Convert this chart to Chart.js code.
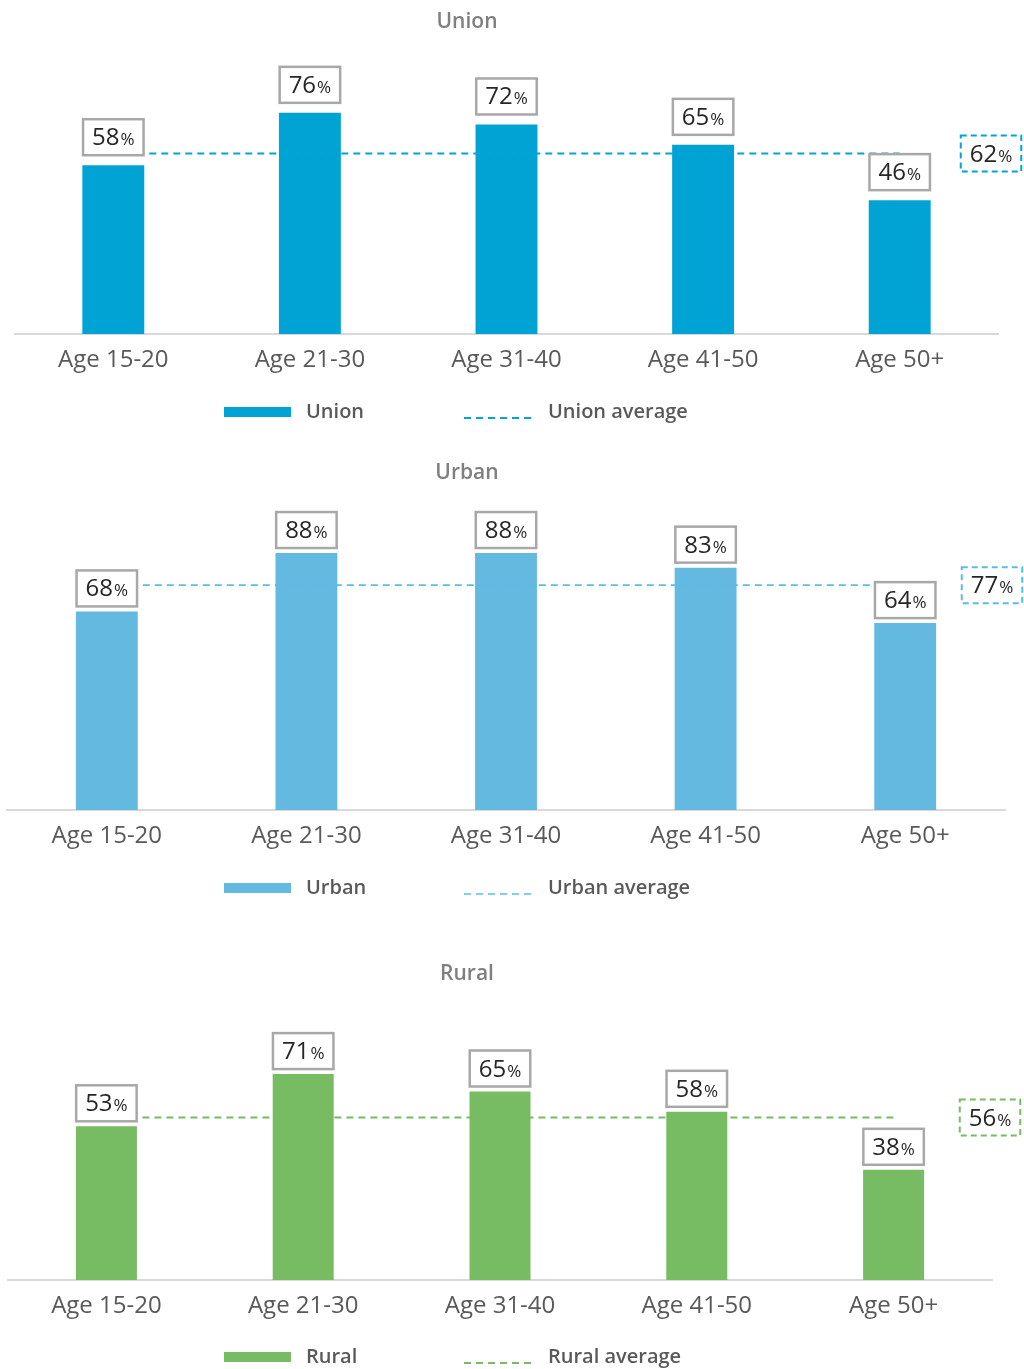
<!DOCTYPE html>
<html><head><meta charset="utf-8">
<script src="https://cdn.jsdelivr.net/npm/chart.js@4"></script>
<style>
body{margin:0;background:#fff;width:1024px;height:1369px;overflow:hidden;position:relative}
canvas{position:absolute;left:0}
</style></head><body>
<canvas id="c1" width="1024" height="450" style="top:0"></canvas>
<canvas id="c2" width="1024" height="480" style="top:450px"></canvas>
<canvas id="c3" width="1024" height="439" style="top:930px"></canvas>
<script>
const categories = ['Age 15-20','Age 21-30','Age 31-40','Age 41-50','Age 50+'];
const unionValues = [58,76,72,65,46];
const unionAverage = [62,62,62,62,62];
const urbanValues = [68,88,88,83,64];
const urbanAverage = [77,77,77,77,77];
const ruralValues = [53,71,65,58,38];
const ruralAverage = [56,56,56,56,56];

const FONT = '"Open Sans", "Noto Sans", sans-serif';

function drawLabel(ctx, cx, cy, value, stroke, dashed){
  ctx.save();
  const numFont = '400 24px ' + FONT, pctFont = '400 17px ' + FONT;
  ctx.font = numFont; const wn = ctx.measureText(String(value)).width;
  ctx.font = pctFont; const wp = ctx.measureText('%').width;
  const tw = wn + wp + 1, w = tw + 18, h = 36;
  ctx.fillStyle = '#fff';
  ctx.fillRect(cx - w/2, cy - h/2, w, h);
  ctx.lineWidth = dashed ? 2 : 2.5;
  ctx.strokeStyle = stroke;
  ctx.setLineDash(dashed ? [6,4] : []);
  ctx.strokeRect(cx - w/2, cy - h/2, w, h);
  ctx.setLineDash([]);
  ctx.fillStyle = '#262626';
  ctx.textBaseline = 'alphabetic';
  ctx.textAlign = 'left';
  ctx.font = numFont;
  ctx.fillText(String(value), cx - tw/2, cy + 8);
  ctx.font = pctFont;
  ctx.fillText('%', cx - tw/2 + wn + 1, cy + 8);
  ctx.restore();
}

const panelPlugin = {
  id: 'panel',
  afterDatasetsDraw(chart, args, o){
    const ctx = chart.ctx;
    ctx.save();
    ctx.font = '600 21px ' + FONT;
    ctx.fillStyle = '#7f7f7f';
    ctx.textAlign = 'center';
    ctx.textBaseline = 'middle';
    ctx.fillText(o.title, o.titleX, o.titleY);
    ctx.restore();

    const meta = chart.getDatasetMeta(0);
    const vals = chart.data.datasets[0].data;
    meta.data.forEach((bar, i) => {
      drawLabel(ctx, bar.x, bar.y - o.gap - 18, vals[i], '#a8a8a8', false);
    });
    const avg = chart.data.datasets[1].data[0];
    const y = chart.scales.y.getPixelForValue(avg);
    drawLabel(ctx, o.avgX, y, avg, o.lineColor, true);

    // legend
    ctx.save();
    const ly = o.legendY;
    ctx.fillStyle = o.color;
    ctx.fillRect(224, ly - 5, 67, 10);
    ctx.strokeStyle = o.lineColor;
    ctx.lineWidth = o.lineWidth;
    ctx.setLineDash([7,5]);
    ctx.beginPath(); ctx.moveTo(464, ly + 6); ctx.lineTo(532, ly + 6); ctx.stroke();
    ctx.setLineDash([]);
    ctx.font = '600 20px ' + FONT;
    ctx.fillStyle = '#595959';
    ctx.textAlign = 'left';
    ctx.textBaseline = 'middle';
    ctx.fillText(chart.data.datasets[0].label, 306, ly);
    ctx.fillText(chart.data.datasets[1].label, 548, ly);
    ctx.restore();
  }
};

function makeChart(id, label, values, average, color, lineColor, lineWidth, pad, barPct, panel){
  panel.lineWidth = lineWidth;
  return new Chart(document.getElementById(id), {
    type: 'bar',
    data: {
      labels: categories,
      datasets: [
        { type:'bar', label: label, data: values, backgroundColor: color, borderWidth: 0,
          categoryPercentage: 1, barPercentage: barPct, order: 2 },
        { type:'line', label: label + ' average', data: average, borderColor: lineColor,
          borderWidth: lineWidth, borderDash: [7,5], pointRadius: 0, fill: false, order: 1 }
      ]
    },
    options: {
      responsive: false,
      animation: false,
      layout: { padding: pad },
      plugins: { legend: { display: false }, title: { display: false }, tooltip: { enabled: false },
        panel: panel },
      scales: {
        x: {
          grid: { display: false },
          border: { display: true, color: '#d9d9d9', width: 2 },
          ticks: { color: '#595959', font: { family: FONT, size: 24 }, padding: 4, maxRotation: 0 },
          afterFit: (s) => { s.height = 40; }
        },
        y: { display: false, min: 0, max: 100 }
      }
    },
    plugins: [panelPlugin]
  });
}

makeChart('c1', 'Union', unionValues, unionAverage, '#00a3d4', '#00a5d6', 2,
  { top: 43, bottom: 76, left: 15, right: 26 }, 0.315,
  { title: 'Union', titleX: 467, titleY: 22, gap: 10, avgX: 991, legendY: 412, color: '#00a3d4', lineColor: '#00a5d6' });
makeChart('c2', 'Urban', urbanValues, urbanAverage, '#63b9df', '#5cbbe6', 1.6,
  { top: 68, bottom: 80, left: 7, right: 19 }, 0.31,
  { title: 'Urban', titleX: 467, titleY: 23, gap: 5, avgX: 992, legendY: 438, color: '#63b9df', lineColor: '#5cbbe6' });
makeChart('c3', 'Rural', ruralValues, ruralAverage, '#77bb63', '#77bb63', 2,
  { top: 60, bottom: 49, left: 8, right: 32 }, 0.31,
  { title: 'Rural', titleX: 467, titleY: 44, gap: 5, avgX: 990, legendY: 427, color: '#77bb63', lineColor: '#77bb63' });
</script>
</body></html>
